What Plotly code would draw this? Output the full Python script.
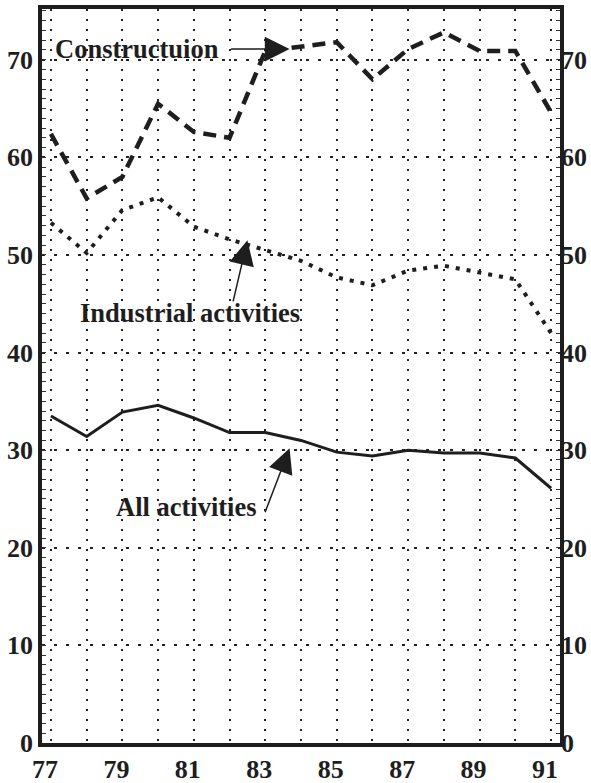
import plotly.graph_objects as go

year_short = [77, 78, 79, 80, 81, 82, 83, 84, 85, 86, 87, 88, 89, 90, 91]
construction = [62.4, 55.8, 58.0, 65.5, 62.6, 62.0, 70.9, 71.4, 71.8, 68.0, 71.1, 72.8, 70.9, 70.9, 64.6]
industrial = [53.3, 50.2, 54.6, 55.9, 52.9, 51.6, 50.5, 49.4, 47.7, 46.9, 48.4, 48.9, 48.2, 47.5, 42.0]
all_act = [33.5, 31.4, 33.9, 34.6, 33.3, 31.8, 31.8, 31.0, 29.8, 29.4, 30.0, 29.7, 29.7, 29.2, 26.1]
x_ticktext = ["77", "", "79", "", "81", "", "83", "", "85", "", "87", "", "89", "", "91"]
y_ticks = [0, 10, 20, 30, 40, 50, 60, 70]

FONT = "Liberation Serif"
INK = "#1e1e1e"

fig = go.Figure()
fig.add_trace(go.Scatter(x=year_short, y=construction, mode="lines",
                         line=dict(color=INK, width=4.5, dash="13px,8px"), name="Construction"))
fig.add_trace(go.Scatter(x=year_short, y=industrial, mode="lines",
                         line=dict(color=INK, width=4, dash="4px,7px"), name="Industrial activities"))
fig.add_trace(go.Scatter(x=year_short, y=all_act, mode="lines",
                         line=dict(color=INK, width=3), name="All activities"))
fig.add_trace(go.Scatter(x=year_short, y=all_act, yaxis="y2", mode="lines",
                         line=dict(width=0), opacity=0, hoverinfo="skip", showlegend=False))

tickfont = dict(family=FONT, size=26, color=INK, weight="bold")
yr = [0, 75.2]
fig.update_layout(
    width=591, height=783,
    margin=dict(l=42, r=31, t=9, b=40),
    paper_bgcolor="white", plot_bgcolor="white",
    showlegend=False,
    font=dict(family=FONT, size=26, color=INK),
    xaxis=dict(range=[76.75, 91.25], tickvals=year_short, ticktext=x_ticktext,
               showgrid=True, gridcolor="#222", gridwidth=2, griddash="2px,8px",
               showline=True, linecolor=INK, linewidth=3.5, mirror=True,
               ticks="", zeroline=False, ticklabelshift=-6, ticklabelstandoff=0, automargin=False,
               tickfont=tickfont),
    yaxis=dict(range=yr, tickvals=y_ticks,
               showgrid=True, gridcolor="#222", gridwidth=1.5, griddash="3px,9px",
               showline=True, linecolor=INK, linewidth=3.5, mirror=True,
               ticks="inside", ticklen=0, zeroline=False, ticklabelstandoff=0, automargin=False,
               minor=dict(dtick=1, ticks="inside", ticklen=4, tickcolor="#333", tickwidth=1, showgrid=False),
               tickfont=tickfont),
    yaxis2=dict(range=yr, tickvals=y_ticks, overlaying="y", side="right",
                showgrid=False, zeroline=False, showline=False, automargin=False,
                ticks="inside", ticklen=0, ticklabelstandoff=0,
                minor=dict(dtick=1, ticks="inside", ticklen=4, tickcolor="#333", tickwidth=1),
                tickfont=tickfont),
)

fnt = dict(family=FONT, size=26.5, color=INK)
# labels
fig.add_annotation(x=79.42, y=71.1, text="<b>Constructuion</b>", showarrow=False, font=fnt)
fig.add_annotation(x=80.88, y=44.1, text="<b>Industrial activities</b>", showarrow=False, font=fnt)
fig.add_annotation(x=80.8, y=24.2, text="<b>All activities</b>", showarrow=False, font=fnt)
# arrows
arrow = dict(showarrow=True, arrowhead=2, arrowsize=3.3, arrowwidth=1.5, arrowcolor=INK,
             axref="x", ayref="y", text="")
fig.add_annotation(x=83.68, y=71.1, ax=82.0, ay=71.1, **arrow)
fig.add_annotation(x=82.5, y=51.5, ax=82.09, ay=45.1, **arrow)
fig.add_annotation(x=83.68, y=30.2, ax=82.98, ay=23.5, **arrow)

fig.write_html(
    "out.html",
    config={"displayModeBar": False},
    post_script="document.body.style.margin='0';document.documentElement.style.overflow='hidden';document.body.style.overflow='hidden';",
)
